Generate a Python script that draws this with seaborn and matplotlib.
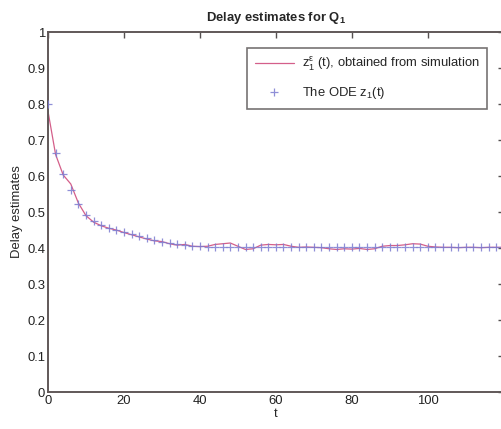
## Delay estimates for Q1: simulated trajectory vs ODE solution.
import numpy as np
import pandas as pd
import matplotlib
matplotlib.use('Agg')
import matplotlib.pyplot as plt
import seaborn as sns

# ODE solution, sampled every 2 time units.
ode_t = list(range(0, 121, 2))
ode_z = [0.800, 0.665, 0.605, 0.562, 0.522, 0.492, 0.474, 0.463, 0.456, 0.451,
         0.445, 0.438, 0.433, 0.428, 0.422, 0.417, 0.413, 0.410, 0.408, 0.406,
         0.405, 0.404, 0.404, 0.403, 0.403, 0.403, 0.402, 0.402, 0.402, 0.402,
         0.402, 0.402, 0.402, 0.402, 0.402, 0.402, 0.402, 0.402, 0.402, 0.402,
         0.402, 0.402, 0.402, 0.402, 0.402, 0.402, 0.402, 0.402, 0.402, 0.402,
         0.402, 0.402, 0.402, 0.402, 0.402, 0.402, 0.402, 0.402, 0.402, 0.402,
         0.402]

# Simulation trajectory (same sampling).
sim_t = list(range(0, 121, 2))
sim_z = [0.780, 0.660, 0.603, 0.578, 0.525, 0.490, 0.472, 0.462, 0.455, 0.450,
         0.443, 0.437, 0.431, 0.425, 0.420, 0.418, 0.412, 0.408, 0.410, 0.405,
         0.404, 0.405, 0.410, 0.412, 0.414, 0.405, 0.396, 0.398, 0.408, 0.410,
         0.409, 0.410, 0.405, 0.402, 0.403, 0.402, 0.401, 0.398, 0.396, 0.398,
         0.397, 0.399, 0.396, 0.398, 0.405, 0.407, 0.407, 0.409, 0.412, 0.411,
         0.405, 0.403, 0.402, 0.402, 0.401, 0.402, 0.402, 0.401, 0.402, 0.402,
         0.402]

sns.set_style('white')
plt.rcParams['font.family'] = ['Liberation Sans', 'DejaVu Sans']
plt.rcParams['mathtext.fontset'] = 'custom'
plt.rcParams['mathtext.rm'] = 'Liberation Sans'
plt.rcParams['mathtext.bf'] = 'Liberation Sans:bold'
FS = 9.4
plt.rcParams['font.size'] = FS

fig = plt.figure(figsize=(5.02, 4.29), dpi=100)
ax = fig.add_axes([0.0956, 0.0862, 0.908, 0.839])

df_sim = pd.DataFrame({'t': sim_t, 'z': sim_z})
df_ode = pd.DataFrame({'t': ode_t, 'z': ode_z})

sns.lineplot(data=df_sim, x='t', y='z', color='#d45f8a', linewidth=0.9, ax=ax,
             label=r'$\mathregular{z_1^{\varepsilon}}$ (t), obtained from simulation')
sns.scatterplot(data=df_ode, x='t', y='z', marker='+', s=32, linewidth=0.9,
                color='#7b7bd0', alpha=0.85, ax=ax, label=r'The ODE z$_1$(t)', zorder=3)

ax.set_xlim(0, 120)
ax.set_ylim(0, 1)
ax.set_xticks([0, 20, 40, 60, 80, 100])
yt = [0, 0.1, 0.2, 0.3, 0.4, 0.5, 0.6, 0.7, 0.8, 0.9, 1]
ax.set_yticks(yt)
ax.set_yticklabels(['0', '0.1', '0.2', '0.3', '0.4', '0.5', '0.6', '0.7', '0.8', '0.9', '1'])
ax.tick_params(direction='in', length=4, width=1, top=True, right=True,
               colors='#555050', labelcolor='#222222', labelsize=FS, pad=2)
for s in ax.spines.values():
    s.set_color('#605858')
    s.set_linewidth(1.4)

ax.set_xlabel('t', labelpad=1)
ax.set_ylabel('Delay estimates', labelpad=3)
ax.set_title(r'Delay estimates for Q$_\mathbf{1}$', fontweight='bold', fontsize=FS, pad=8)

leg = ax.legend(loc='upper right', bbox_to_anchor=(0.978, 0.975), frameon=True,
                fancybox=False, edgecolor='#555050', fontsize=FS,
                handlelength=3.0, handletextpad=0.6, borderpad=0.6, labelspacing=0.9)
leg.get_frame().set_linewidth(1.2)

plt.savefig('out.png', dpi=100)
